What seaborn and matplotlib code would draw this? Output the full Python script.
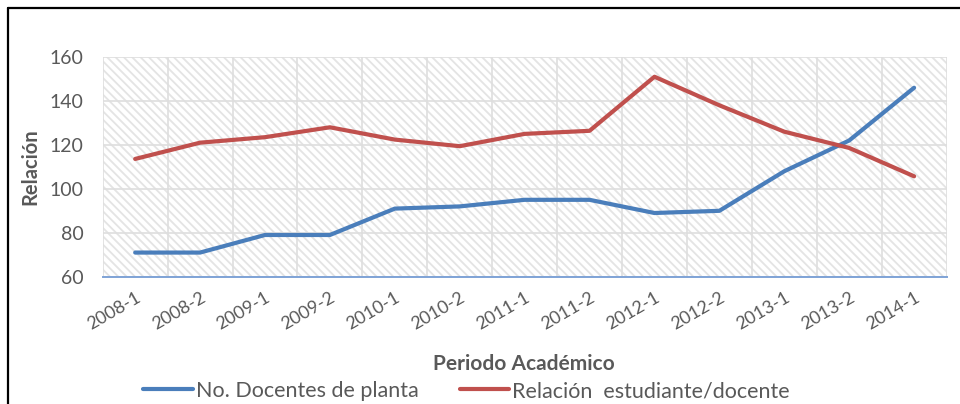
import pandas as pd
import numpy as np
import matplotlib
matplotlib.use("Agg")
import matplotlib.pyplot as plt
import seaborn as sns
from matplotlib.patches import Rectangle
from matplotlib.lines import Line2D

periodos = ["2008-1", "2008-2", "2009-1", "2009-2", "2010-1", "2010-2", "2011-1",
            "2011-2", "2012-1", "2012-2", "2013-1", "2013-2", "2014-1"]
docentes = [71, 71, 79, 79, 91, 92, 95, 95, 89, 90, 108, 122, 146]
relacion = [113.6, 121, 123.5, 128, 122.4, 119.4, 125, 126.4, 151, 138, 126, 118.6, 105.7]

serie_doc = "No. Docentes de planta"
serie_rel = "Relación  estudiante/docente"

df = pd.DataFrame({"Periodo": periodos, serie_doc: docentes, serie_rel: relacion})
df = df.melt(id_vars="Periodo", var_name="Serie", value_name="Relación")

sns.set_style("white")
plt.rcParams["font.family"] = ["Lato", "DejaVu Sans"]
plt.rcParams["hatch.linewidth"] = 1.3

gris = "#595959"
fig = plt.figure(figsize=(9.6, 4.04), dpi=100)
ax = fig.add_axes([0.107, 0.315, 0.879, 0.544])

# fondo rayado
ax.add_patch(Rectangle((0, 0), 1, 1, transform=ax.transAxes, facecolor="white",
                       edgecolor="#e4e4e4", hatch="\\\\\\\\", linewidth=0, zorder=0))

sns.lineplot(data=df, x="Periodo", y="Relación", hue="Serie",
             palette={serie_doc: "#4a7ebb", serie_rel: "#c0504d"},
             linewidth=3.0, ax=ax, legend=False, zorder=3)

ax.set_xlim(-0.5, 12.5)
ax.set_ylim(60, 160)
ax.set_yticks(range(60, 161, 20))
ax.set_xticks(np.arange(-0.5, 12.6, 0.5), minor=True)
ax.set_xticks(range(len(periodos)))
ax.set_xticklabels(periodos, rotation=30, ha="right", rotation_mode="anchor")
ax.grid(axis="y", color="#dedede", linewidth=1.2, zorder=1)
ax.grid(axis="x", which="minor", color="#dedede", linewidth=1.2, zorder=1)
ax.set_axisbelow(True)

for s in ["top", "right", "left"]:
    ax.spines[s].set_visible(False)
ax.spines["bottom"].set_color("#7fa3d6")
ax.spines["bottom"].set_linewidth(1.4)

ax.tick_params(axis="y", length=0, pad=14, labelsize=14, labelcolor=gris)
ax.tick_params(axis="x", which="both", length=0, pad=9, labelsize=13, labelcolor=gris)

ax.set_ylabel("")
ax.set_xlabel("")
fig.text(30 / 960, 1 - 167 / 404, "Relación", rotation=90, ha="center", va="center",
         fontsize=14.5, fontweight="bold", color=gris)
fig.text(524 / 960, 1 - 364 / 404, "Periodo Académico", ha="center", va="center",
         fontsize=15, fontweight="bold", color=gris)

handles = [Line2D([], [], color="#4a7ebb", linewidth=3.0),
           Line2D([], [], color="#c0504d", linewidth=3.0)]
fig.legend(handles, [serie_doc, serie_rel], loc="center", ncol=2,
           bbox_to_anchor=(0.486, 1 - 391 / 404), frameon=False, fontsize=15.5,
           handlelength=2.3, handletextpad=0.15, columnspacing=1.9,
           labelcolor=gris, borderpad=0)

# marco del gráfico
fig.add_artist(Line2D([0.0085, 0.0085], [0, 0.981], color="black", linewidth=1.6,
                      transform=fig.transFigure))
fig.add_artist(Line2D([0.0085, 1], [0.981, 0.981], color="black", linewidth=1.6,
                      transform=fig.transFigure))

fig.savefig("out.png", dpi=100)
